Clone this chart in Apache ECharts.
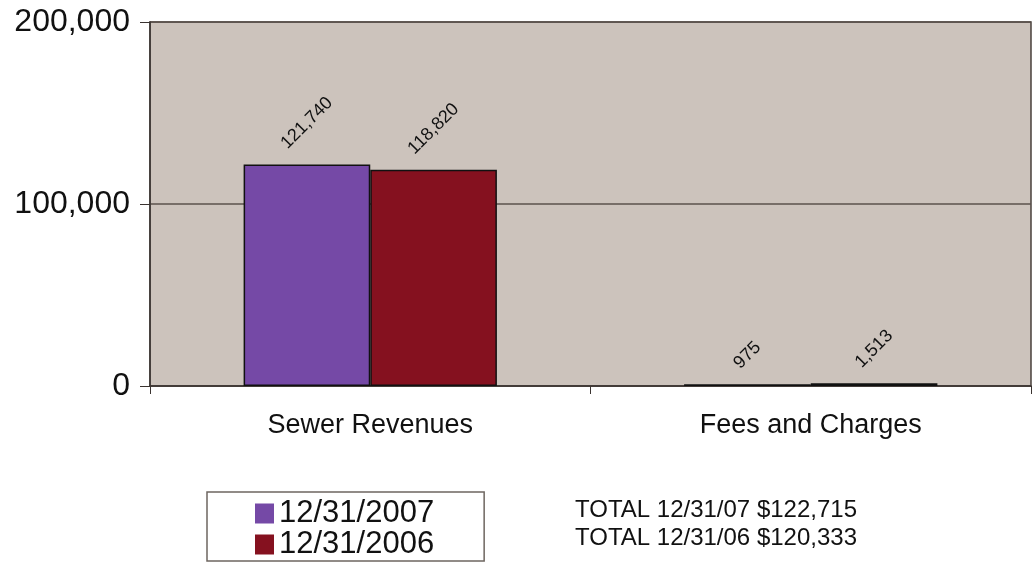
<!DOCTYPE html>
<html>
<head>
<meta charset="utf-8">
<script src="https://cdn.jsdelivr.net/npm/echarts@6/dist/echarts.min.js"></script>
<style>
  html, body { margin: 0; padding: 0; background: #fff; }
  #chart { width: 1034px; height: 562px; }
</style>
</head>
<body>
<div id="chart"></div>
<script>
// values
const categories = ["Sewer Revenues", "Fees and Charges"];
const seriesNames = ["12/31/2007", "12/31/2006"];
const values2007 = [121740, 975];
const values2006 = [118820, 1513];
const yTicks = [0, 100000, 200000];
const totals = ["TOTAL 12/31/07 $122,715", "TOTAL 12/31/06 $120,333"];

const font = "Liberation Sans, Arial, sans-serif";
const labelSize = 18;

// keep the rotated label's box a fixed gap above the bar, like Excel does
const ctx = document.createElement("canvas").getContext("2d");
ctx.font = labelSize + "px " + font;
function fmt(v) { return v.toLocaleString("en-US"); }
function labelDist(v) {
  const w = ctx.measureText(fmt(v)).width;
  return 12 + (w + labelSize) * 0.7071 / 2;
}
function items(arr) {
  return arr.map(v => ({ value: v, label: { distance: labelDist(v) } }));
}

let myChart = echarts.init(document.getElementById("chart"));

myChart.setOption({
  animation: false,
  backgroundColor: "#ffffff",
  grid: {
    left: 150,
    right: 3,
    top: 22,
    bottom: 176,
    show: true,
    backgroundColor: "#ccc3bc",
    borderColor: "#4a423d",
    borderWidth: 1.5
  },
  legend: {
    orient: "vertical",
    left: 207,
    top: 492,
    padding: [6, 50, 1, 48],
    itemGap: 0,
    itemWidth: 19,
    itemHeight: 20,
    icon: "rect",
    itemStyle: { borderWidth: 0 },
    borderColor: "#6e6660",
    borderWidth: 1.5,
    textStyle: { fontFamily: font, fontSize: 31, color: "#111" },
    data: seriesNames
  },
  graphic: totals.map((t, i) => ({
    type: "text",
    left: 575,
    top: 498 + i * 28,
    style: { text: t, fontFamily: font, fontSize: 24, fill: "#111" }
  })),
  xAxis: {
    type: "category",
    data: categories,
    axisLine: { lineStyle: { color: "#3a3330", width: 1.5 } },
    axisTick: { show: true, length: 8, lineStyle: { color: "#3a3330" } },
    axisLabel: { fontFamily: font, fontSize: 27, color: "#111", margin: 26 }
  },
  yAxis: {
    type: "value",
    min: yTicks[0],
    max: yTicks[yTicks.length - 1],
    interval: yTicks[1] - yTicks[0],
    axisLine: { show: true, lineStyle: { color: "#3a3330", width: 1.5 } },
    axisTick: { show: true, length: 10, lineStyle: { color: "#3a3330" } },
    axisLabel: {
      fontFamily: font, fontSize: 32, color: "#111", margin: 20,
      formatter: v => fmt(v)
    },
    splitLine: { lineStyle: { color: "#5b524c", width: 1.5 } }
  },
  series: [
    {
      name: seriesNames[0],
      type: "bar",
      data: items(values2007),
      barGap: "0%",
      barCategoryGap: "42.5%",
      itemStyle: { color: "#7549a6", borderColor: "#111", borderWidth: 1.5 },
      label: {
        show: true, position: "top", rotate: 45,
        align: "center", verticalAlign: "middle",
        fontFamily: font, fontSize: labelSize, color: "#111",
        formatter: p => fmt(p.value)
      }
    },
    {
      name: seriesNames[1],
      type: "bar",
      data: items(values2006),
      barGap: "0%",
      barCategoryGap: "42.5%",
      itemStyle: { color: "#85111f", borderColor: "#111", borderWidth: 1.5 },
      label: {
        show: true, position: "top", rotate: 45,
        align: "center", verticalAlign: "middle",
        fontFamily: font, fontSize: labelSize, color: "#111",
        formatter: p => fmt(p.value)
      }
    }
  ]
});
</script>
</body>
</html>
